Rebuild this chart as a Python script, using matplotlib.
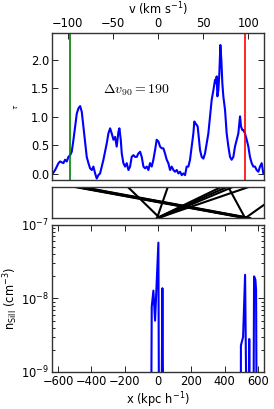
import matplotlib
matplotlib.use("Agg")
import matplotlib.pyplot as plt
import numpy as np

# optical depth vs velocity
vel = [-116.6, -114.0, -110.3, -108.5, -104.8, -103.0, -101.1, -99.3, -97.4, -95.6,
       -93.7, -91.9, -90.0, -88.2, -86.3, -84.5, -82.7, -80.8, -79.0, -77.1,
       -75.3, -73.4, -71.6, -69.7, -67.9, -66.1, -64.2, -62.4, -60.5, -58.7,
       -56.8, -55.0, -53.1, -51.3, -49.4, -47.6, -45.8, -43.9, -42.8, -41.3,
       -40.2, -38.4, -36.5, -34.7, -32.8, -31.0, -29.2, -27.3, -25.5, -23.6,
       -21.8, -19.9, -18.1, -16.2, -14.4, -12.5, -10.7, -8.9, -7.0, -5.2,
       -3.3, -1.5, 0.4, 2.2, 4.1, 5.9, 7.7, 9.6, 11.4, 13.3,
       15.1, 17.0, 18.8, 20.7, 22.5, 24.4, 26.2, 28.0, 29.9, 31.7,
       33.6, 35.4, 37.3, 39.1, 40.2, 41.3, 42.8, 43.9, 45.4, 46.5,
       48.3, 50.2, 52.0, 53.9, 55.7, 57.6, 59.4, 61.3, 63.1, 64.2,
       64.9, 65.7, 66.8, 67.9, 69.0, 70.1, 71.2, 72.3, 74.2, 76.0,
       77.9, 79.7, 81.5, 83.4, 85.2, 87.1, 88.9, 90.8, 91.9, 93.4,
       94.5, 96.3, 98.2, 100.0, 101.8, 103.7, 105.5, 107.4, 109.2, 111.1,
       112.9, 114.8, 116.6]
tau = [0.01, 0.07, 0.19, 0.22, 0.19, 0.25, 0.22, 0.30, 0.33, 0.39,
       0.60, 0.83, 1.06, 1.15, 1.19, 1.09, 0.83, 0.54, 0.30, 0.19,
       0.10, 0.07, 0.13, 0.01, -0.08, -0.02, 0.01, 0.13, 0.25, 0.39,
       0.54, 0.71, 0.80, 0.71, 0.60, 0.65, 0.48, 0.74, 0.80, 0.60,
       0.36, 0.19, 0.13, 0.19, 0.07, 0.13, 0.30, 0.33, 0.30, 0.30,
       0.36, 0.39, 0.30, 0.13, 0.10, 0.13, 0.07, 0.19, 0.13, 0.25,
       0.42, 0.60, 0.57, 0.48, 0.45, 0.45, 0.36, 0.25, 0.19, 0.07,
       0.13, 0.07, 0.04, 0.07, 0.01, 0.04, -0.02, 0.01, -0.02, 0.13,
       0.13, 0.25, 0.48, 0.71, 0.92, 0.89, 0.86, 0.83, 0.60, 0.42,
       0.30, 0.27, 0.36, 0.54, 0.71, 1.01, 1.30, 1.47, 1.65, 1.59,
       1.71, 1.36, 1.47, 1.77, 2.26, 2.00, 1.59, 1.36, 1.12, 0.71,
       0.48, 0.30, 0.25, 0.30, 0.48, 0.60, 0.71, 1.01, 0.83, 0.77,
       0.77, 0.71, 0.60, 0.48, 0.30, 0.19, 0.13, 0.13, 0.07, 0.04,
       0.13, 0.19, 0.01]
v_lo, v_hi = -97.0, 96.5

# velocity (top) -> position (bottom) connections
link_v = [-95, -93, -91, -89, -87, -34, 11, 71, 77.5, 84, 102, 77.5, 146]
link_x = [520, 527, 535, 545, 553, 10, -6, -6, -6, 6, 0, 523, 525]

# density along the sightline
pos = [-640, -42, -38, -28, -18, 2, 6, 20, 26, 32,
       497, 498, 511, 523, 533, 545, 547, 549, 551, 573, 577, 585, 589, 593, 640]
dens = [1e-10, 1e-10, 7.7e-9, 1.28e-8, 5.0e-9, 5.75e-8, 1e-10, 1e-10, 1.38e-8, 1e-10,
        1e-10, 2.3e-9, 3.0e-9, 2.1e-8, 1e-10, 1e-10, 2.8e-9, 2.8e-9, 1e-10, 1e-10, 2.0e-8, 1.8e-8, 1.3e-8, 1e-10, 1e-10]

vmax = 117.4
xmax = 637.0
fs = 8.3
spc = "#333333"

fig = plt.figure(figsize=(2.74, 4.09), dpi=100)
ax1 = fig.add_axes([0.190, 0.5599, 0.7737, 0.3594])
ax2 = fig.add_axes([0.190, 0.467, 0.7737, 0.077])
ax3 = fig.add_axes([0.190, 0.0905, 0.7737, 0.3594])

for ax in (ax1, ax2, ax3):
    for s in ax.spines.values():
        s.set_color(spc)
        s.set_linewidth(1.0)

# top panel
ax1.plot(vel, tau, color="blue", lw=1.5)
ax1.axvline(v_lo, color="green", lw=1.2)
ax1.axvline(v_hi, color="red", lw=1.2)
ax1.set_xlim(-vmax, vmax)
ax1.set_ylim(-0.105, 2.47)
ax1.set_yticks([0.0, 0.5, 1.0, 1.5, 2.0])
ax1.set_xticks([-100, -50, 0, 50, 100])
ax1.xaxis.tick_top()
ax1.xaxis.set_label_position("top")
ax1.set_xlabel(r"v (km s$^{-1}$)", fontsize=fs, labelpad=2)
ax1.set_ylabel(r"$\tau$", fontsize=5, labelpad=8)
ax1.tick_params(axis="both", direction="in", labelsize=fs, length=4, width=0.6,
                top=True, bottom=False, left=True, right=True, pad=2)
ax1.text(-61, 1.47, r"$\Delta v_{90} = 190$", fontsize=10, va="center",
         math_fontfamily="cm")

# middle panel
for v, x in zip(link_v, link_x):
    ax2.plot([v * xmax / vmax, x], [1, 0], color="black", lw=1.5)
ax2.set_xlim(-xmax, xmax)
ax2.set_ylim(0, 1)
ax2.set_xticks([])
ax2.set_yticks([])

# bottom panel
ax3.semilogy(pos, dens, color="blue", lw=1.5)
ax3.set_xlim(-xmax, xmax)
ax3.set_ylim(1e-9, 1e-7)
ax3.set_xticks([-600, -400, -200, 0, 200, 400, 600])
ax3.set_xlabel(r"x (kpc h$^{-1}$)", fontsize=fs, labelpad=2)
ax3.set_ylabel(r"n$_{\rm SiII}$ (cm$^{-3}$)", fontsize=fs, labelpad=1)
ax3.tick_params(axis="both", which="both", direction="in", labelsize=fs,
                top=True, right=True, width=0.6, pad=2)
ax3.tick_params(which="major", length=4)
ax3.tick_params(which="minor", length=2)

fig.savefig("out.png", dpi=100)
